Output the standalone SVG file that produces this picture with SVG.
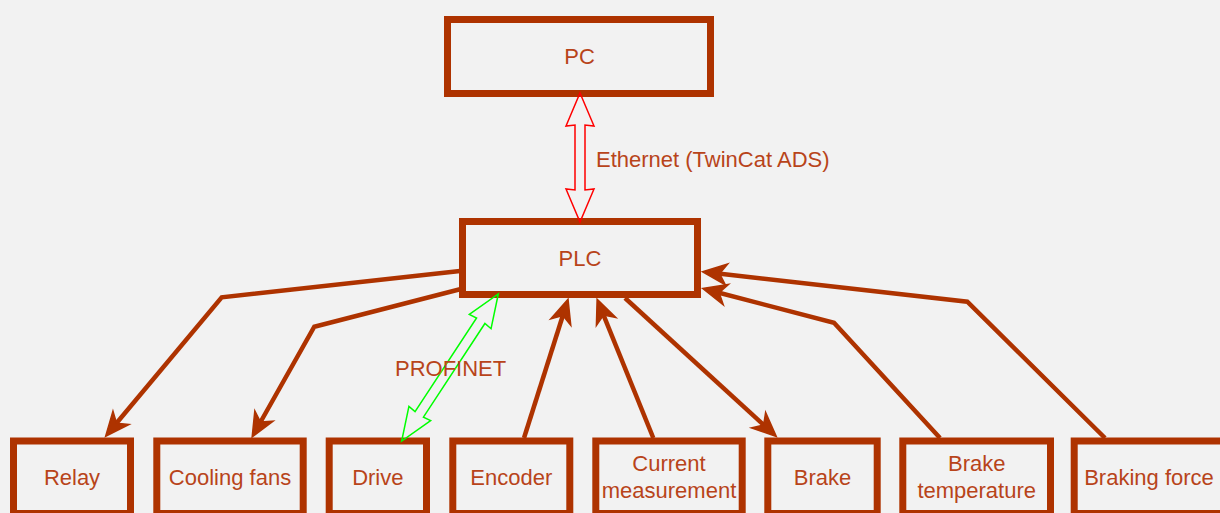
<svg xmlns="http://www.w3.org/2000/svg" width="1220" height="513" viewBox="0 0 1220 513">
<style>
.node rect{fill:#F2F2F2;stroke:#AE3300;stroke-width:7}
.node text{font-family:"Liberation Sans",Arial,sans-serif;font-size:22px;fill:#B8441A;text-anchor:middle}
.lbl{font-family:"Liberation Sans",Arial,sans-serif;font-size:22px;fill:#B8441A}
.edge{fill:none;stroke:#AE3300;stroke-width:4.5;stroke-linejoin:miter;marker-end:url(#arr)}
.flex{fill:none;stroke-width:1.5;stroke-linejoin:miter}
</style>
<defs>
<marker id="arr" markerUnits="userSpaceOnUse" orient="auto" refX="0" refY="0" markerWidth="40" markerHeight="40" overflow="visible">
<path d="M9,0 L-15,-10.5 L-8,0 L-15,10.5 Z" fill="#AE3300" stroke="#AE3300" stroke-width="1.5" stroke-linejoin="miter"/>
</marker>
</defs>
<rect x="0" y="0" width="1220" height="513" fill="#F2F2F2"/>
<g id="nodes">
<g id="pc" class="node"><rect x="447.5" y="19.5" width="263" height="74"/><text x="579.5" y="64">PC</text></g>
<g id="plc" class="node"><rect x="462.5" y="221.5" width="235" height="73"/><text x="580" y="266">PLC</text></g>
<g id="relay" class="node"><rect x="13.5" y="441" width="117" height="72.5"/><text x="72" y="485">Relay</text></g>
<g id="cooling" class="node"><rect x="156.8" y="441" width="146.4" height="72.5"/><text x="230" y="485">Cooling fans</text></g>
<g id="drive" class="node"><rect x="329.2" y="441" width="97.3" height="72.5"/><text x="377.8" y="485">Drive</text></g>
<g id="encoder" class="node"><rect x="452.8" y="441" width="117" height="72.5"/><text x="511.3" y="485">Encoder</text></g>
<g id="current" class="node"><rect x="595.8" y="441" width="146.4" height="72.5"/><text x="669" y="470.7">Current</text><text x="669" y="498.3">measurement</text></g>
<g id="brake" class="node"><rect x="767.8" y="441" width="109.4" height="72.5"/><text x="822.5" y="485">Brake</text></g>
<g id="braketemp" class="node"><rect x="902.8" y="441" width="147.7" height="72.5"/><text x="976.7" y="470.7">Brake</text><text x="976.7" y="498.3">temperature</text></g>
<g id="brakingforce" class="node"><rect x="1074.2" y="441" width="150" height="72.5"/><text x="1149" y="485">Braking force</text></g>
</g>
<g id="connectors">
<path class="flex" stroke="#FF0000" transform="translate(580,93) rotate(90)" d="M0,0 L33,-14 L32,-5 L97,-5 L96,-14 L129,0 L96,14 L97,5 L32,5 L33,14 Z"/>
<path class="flex" stroke="#00FF00" transform="translate(498.3,294) rotate(123.3)" d="M0,0 L33,-13 L32,-5 L144,-5 L143,-13 L176,0 L143,13 L144,5 L32,5 L33,13 Z"/>
<polyline class="edge" points="460,271 221.7,297.3 111.4,429.3"/>
<polyline class="edge" points="460,289.3 314.3,326.7 256.6,429"/>
<polyline class="edge" points="524,438 565.3,307.8"/>
<polyline class="edge" points="653.3,438 600.5,307.6"/>
<polyline class="edge" points="625,298 769.6,430.3"/>
<polyline class="edge" points="940,438 834,322.7 711.4,290.8"/>
<polyline class="edge" points="1105,438 967.3,301.7 711.6,272.8"/>
<text class="lbl" x="596" y="166.7">Ethernet (TwinCat ADS)</text>
<text class="lbl" x="395" y="375.7">PROFINET</text>
</g>
</svg>
